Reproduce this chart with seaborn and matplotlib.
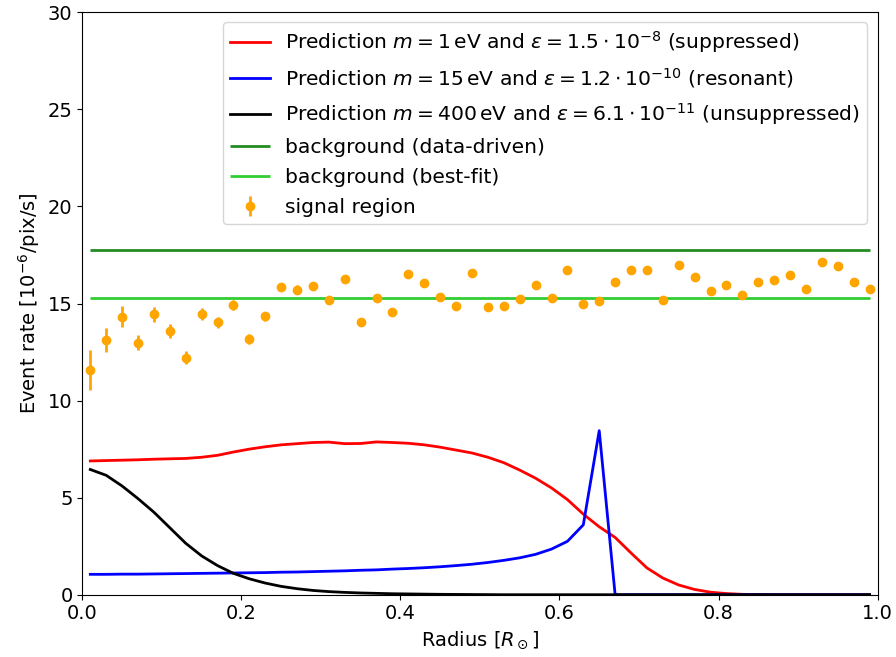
import numpy as np
import pandas as pd
import seaborn as sns
import matplotlib
matplotlib.use("Agg")
import matplotlib.pyplot as plt

radius = [0.01, 0.03, 0.05, 0.07, 0.09, 0.11, 0.13, 0.15, 0.17, 0.19,
          0.21, 0.23, 0.25, 0.27, 0.29, 0.31, 0.33, 0.35, 0.37, 0.39,
          0.41, 0.43, 0.45, 0.47, 0.49, 0.51, 0.53, 0.55, 0.57, 0.59,
          0.61, 0.63, 0.65, 0.67, 0.69, 0.71, 0.73, 0.75, 0.77, 0.79,
          0.81, 0.83, 0.85, 0.87, 0.89, 0.91, 0.93, 0.95, 0.97, 0.99]

signal = [11.56, 13.13, 14.33, 12.99, 14.45, 13.56, 12.2, 14.45, 14.04, 14.91,
          13.16, 14.35, 15.84, 15.72, 15.89, 15.17, 16.24, 14.04, 15.26, 14.54,
          16.5, 16.08, 15.33, 14.85, 16.58, 14.83, 14.88, 15.24, 15.96, 15.27,
          16.72, 15.0, 15.12, 16.1, 16.7, 16.72, 15.19, 17.0, 16.34, 15.62,
          15.96, 15.45, 16.13, 16.19, 16.49, 15.76, 17.15, 16.91, 16.12, 15.77]

signal_err = [1.03, 0.63, 0.52, 0.41, 0.39, 0.36, 0.33, 0.3, 0.29, 0.26,
              0.25, 0.23, 0.22, 0.21, 0.2, 0.2, 0.19, 0.19, 0.18, 0.18,
              0.17, 0.17, 0.17, 0.16, 0.16, 0.16, 0.15, 0.15, 0.15, 0.15,
              0.14, 0.14, 0.14, 0.14, 0.14, 0.13, 0.13, 0.13, 0.13, 0.13,
              0.13, 0.12, 0.12, 0.12, 0.12, 0.12, 0.12, 0.12, 0.12, 0.12]

pred_suppressed = [6.89, 6.91, 6.93, 6.95, 6.98, 7.0, 7.02, 7.08, 7.18, 7.35,
                   7.5, 7.62, 7.72, 7.78, 7.84, 7.86, 7.78, 7.79, 7.87, 7.84,
                   7.8, 7.72, 7.6, 7.45, 7.3, 7.08, 6.8, 6.42, 6.0, 5.5,
                   4.9, 4.15, 3.5, 2.95, 2.15, 1.38, 0.86, 0.5, 0.27, 0.13,
                   0.06, 0.02, 0.01, 0.0, 0.0, 0.0, 0.0, 0.0, 0.0, 0.0]

pred_resonant = [1.05, 1.05, 1.06, 1.06, 1.07, 1.08, 1.09, 1.1, 1.11, 1.12,
                 1.13, 1.14, 1.16, 1.17, 1.19, 1.21, 1.23, 1.26, 1.28, 1.32,
                 1.35, 1.39, 1.44, 1.5, 1.57, 1.66, 1.77, 1.9, 2.08, 2.35,
                 2.75, 3.6, 8.45, 0.0, 0.0, 0.0, 0.0, 0.0, 0.0, 0.0,
                 0.0, 0.0, 0.0, 0.0, 0.0, 0.0, 0.0, 0.0, 0.0, 0.0]

pred_unsuppressed = [6.45, 6.15, 5.6, 4.95, 4.25, 3.45, 2.65, 2.0, 1.5, 1.1,
                     0.82, 0.6, 0.43, 0.31, 0.22, 0.16, 0.12, 0.09, 0.07, 0.05,
                     0.04, 0.03, 0.02, 0.015, 0.01, 0.005, 0.0, 0.0, 0.0, 0.0,
                     0.0, 0.0, 0.0, 0.0, 0.0, 0.0, 0.0, 0.0, 0.0, 0.0,
                     0.0, 0.0, 0.0, 0.0, 0.0, 0.0, 0.0, 0.0, 0.0, 0.0]

bg_data_driven = 17.73
bg_best_fit = 15.27

labels = [
    r"Prediction $m = 1\,\mathrm{eV}$ and $\varepsilon = 1.5\cdot10^{-8}$ (suppressed)",
    r"Prediction $m = 15\,\mathrm{eV}$ and $\varepsilon = 1.2\cdot10^{-10}$ (resonant)",
    r"Prediction $m = 400\,\mathrm{eV}$ and $\varepsilon = 6.1\cdot10^{-11}$ (unsuppressed)",
    "background (data-driven)",
    "background (best-fit)",
    "signal region",
]

plt.rcParams["font.size"] = 14
plt.rcParams["font.family"] = ["DejaVu Sans"]

fig, ax = plt.subplots(figsize=(8.96, 6.57), dpi=100)
fig.subplots_adjust(left=0.0919, right=0.9794, top=0.9813, bottom=0.0948)

sns.lineplot(x=radius, y=pred_suppressed, color="red", lw=2, label=labels[0], ax=ax)
sns.lineplot(x=radius, y=pred_resonant, color="blue", lw=2, label=labels[1], ax=ax)
sns.lineplot(x=radius, y=pred_unsuppressed, color="black", lw=2, label=labels[2], ax=ax)
ax.hlines(bg_data_driven, radius[0], radius[-1], color="forestgreen", lw=2, label=labels[3])
ax.hlines(bg_best_fit, radius[0], radius[-1], color="limegreen", lw=2, label=labels[4])
ax.errorbar(radius, signal, yerr=signal_err, fmt="o", color="orange", ms=6,
            elinewidth=2, label=labels[5])

ax.set_xlim(0, 1)
ax.set_ylim(0, 30)
ax.set_xticks([0.0, 0.2, 0.4, 0.6, 0.8, 1.0])
ax.set_yticks([0, 5, 10, 15, 20, 25, 30])
ax.set_xlabel(r"Radius [$R_\odot$]")
ax.set_ylabel(r"Event rate [$10^{-6}$/pix/s]")
ax.legend(loc="upper right", fontsize=14.6, handletextpad=0.75,
          borderaxespad=0.5, labelspacing=0.54, borderpad=0.35)

fig.savefig("out.png", dpi=100)
